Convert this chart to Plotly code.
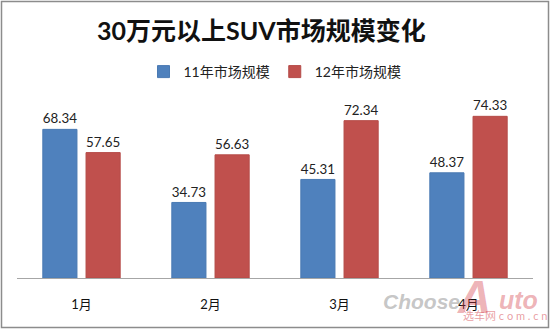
import plotly.graph_objects as go

months = ["1月", "2月", "3月", "4月"]
sales_2011 = [68.34, 34.73, 45.31, 48.37]
sales_2012 = [57.65, 56.63, 72.34, 74.33]
series_names = ["11年市场规模", "12年市场规模"]

W, H = 550, 329
ML, MR, MT, MB = 17, 17, 104, 51
PW, PH = W - ML - MR, H - MT - MB

FONT = "Lato, 'Noto Sans CJK SC', sans-serif"


def px(x):
    return (x - ML) / PW


def py(y):
    return (H - MB - y) / PH


fig = go.Figure()
for name, vals, col, edge in [
    (series_names[0], sales_2011, "#4F81BD", "#4A7AB3"),
    (series_names[1], sales_2012, "#C0504D", "#B54B48"),
]:
    fig.add_trace(go.Bar(
        x=months, y=vals, name=name,
        marker=dict(color=col, line=dict(color=edge, width=1)),
        text=[f"{v:.2f}" for v in vals],
        textposition="outside",
        textfont=dict(size=14, color="#222222", family=FONT),
        cliponaxis=False,
    ))


def label(text, x, y, size, color, family=FONT):
    return dict(text=text, x=px(x), y=py(y), xref="paper", yref="paper",
                xanchor="center", yanchor="middle", showarrow=False,
                font=dict(size=size, color=color, family=family))


annotations = [
    label("<b>30万元以上SUV市场规模变化</b>", 261, 30, 25, "#111111"),
    # watermark
    label("<b><i>Choose</i></b>", 421, 301, 21, "rgba(150,150,150,0.55)", "Liberation Sans"),
    label("<b><i>A</i></b>", 474, 297, 46, "rgba(210,60,70,0.4)", "Liberation Sans"),
    label("<b><i>uto</i></b>", 518, 300, 25, "rgba(210,60,70,0.4)", "Liberation Sans"),
    label("选车网 c o m . c n", 505, 315, 11, "rgba(210,60,70,0.5)"),
]

shapes = [
    dict(type="rect", xref="paper", yref="paper",
         x0=px(1.5), x1=px(548.5), y0=py(327.5), y1=py(1.5),
         line=dict(color="#8C8C8C", width=1.5), fillcolor="rgba(0,0,0,0)", layer="above"),
]

fig.update_layout(
    width=W, height=H,
    margin=dict(l=ML, r=MR, t=MT, b=MB),
    paper_bgcolor="white", plot_bgcolor="white",
    barmode="group", bargap=0.33, bargroupgap=0.21,
    showlegend=True,
    legend=dict(orientation="h", x=0.5, xanchor="center", y=py(72), yanchor="middle",
                font=dict(size=14, color="#222222", family=FONT),
                itemwidth=30, traceorder="normal"),
    xaxis=dict(showline=True, linecolor="#A6A6A6", linewidth=1, ticks="",
               tickfont=dict(size=13, color="#111111", family=FONT),
               ticklabelstandoff=14, showgrid=False, zeroline=False),
    yaxis=dict(range=[0, 80], showgrid=False, zeroline=False, showticklabels=False,
               showline=False, ticks=""),
    annotations=annotations,
    shapes=shapes,
    font=dict(family=FONT),
)

fig.write_html("out.html")
